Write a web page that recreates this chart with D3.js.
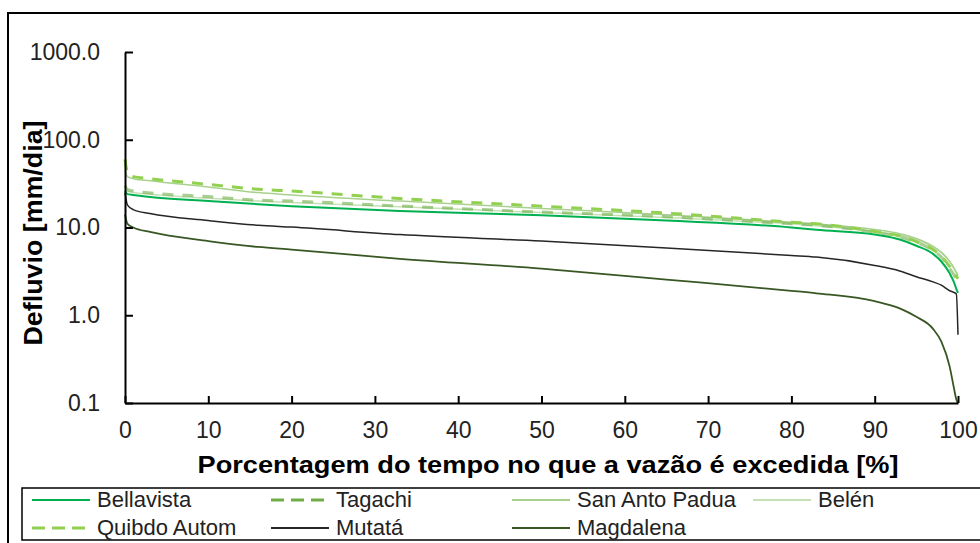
<!DOCTYPE html>
<meta charset="utf-8">
<body style="margin: 0; overflow: hidden; background: #fff">
<script src="https://d3js.org/d3.v7.min.js"></script>
<script>
    // percentage of time the flow is exceeded
    var pct = [0, 0.3, 1, 3, 10, 16, 20, 33, 50, 65, 80, 83, 90, 93, 95, 97, 98, 99, 99.5, 99.8, 100];

    var bellavista = [26, 24, 23.5, 22.3, 20, 18.4, 17.5, 15.4, 13.8, 12, 10, 9.4, 8.3, 7.3, 6.2, 5.0, 4.1, 3.0, 2.4, 2.0, 1.8];
    var tagachi    = [30, 27, 26, 24.8, 22.5, 20.5, 20, 17.6, 15, 13.3, 11, 10.6, 8.8, 7.8, 6.8, 5.5, 4.6, 3.4, 2.9, 2.6, 2.4];
    var sanAnto    = [45, 38, 36, 34, 29, 25, 23.5, 20, 16.5, 14, 11.5, 11, 9.5, 8.5, 7.5, 6.1, 5.2, 4.1, 3.5, 3.1, 2.9];
    var belen      = [28, 26, 25, 24, 21.5, 20, 19.3, 17.2, 14.8, 13, 11, 10.5, 9, 8.2, 7.3, 6.0, 5.2, 4.1, 3.4, 3.0, 2.8];
    var quibdo     = [60, 42, 38, 36, 31, 27.3, 26, 21.4, 17.5, 14.6, 11.5, 11, 9.0, 8.0, 6.9, 5.6, 4.7, 3.6, 3.1, 2.8, 2.6];
    var mutata     = [25, 18, 16, 14.4, 12, 10.6, 10.1, 8.3, 7.0, 5.85, 4.8, 4.6, 3.7, 3.2, 2.75, 2.4, 2.2, 1.9, 1.82, 1.75, 0.6];
    var magdalena  = [14, 11, 10, 8.9, 7, 6.0, 5.6, 4.4, 3.4, 2.55, 1.9, 1.78, 1.45, 1.2, 0.96, 0.7, 0.5, 0.26, 0.15, 0.11, 0.1];

    var xTicks = [0, 10, 20, 30, 40, 50, 60, 70, 80, 90, 100];
    var yTicks = [0.1, 1, 10, 100, 1000];

    var series = [
        {name: "Bellavista",     values: bellavista, color: "#00b050", width: 2,   dash: null},
        {name: "Tagachi",        values: tagachi,    color: "#70ad47", width: 3,   dash: "11,9", opacity: 0.6},
        {name: "San Anto Padua", values: sanAnto,    color: "#a9d18e", width: 1.5, dash: null},
        {name: "Belén",          values: belen,      color: "#c5e0b4", width: 1.5, dash: null},
        {name: "Quibdo Autom",   values: quibdo,     color: "#92d050", width: 3,   dash: "11,9"},
        {name: "Mutatá",         values: mutata,     color: "#262626", width: 1.5, dash: null},
        {name: "Magdalena",      values: magdalena,  color: "#385723", width: 1.8, dash: null}
    ];

    var width = 980, height = 543;
    var font = "'Liberation Sans', Arial, sans-serif";

    var svg = d3.select("body").append("svg")
        .attr("width", width)
        .attr("height", height)
        .style("font-family", font);

    // outer frame
    svg.append("rect")
        .attr("x", 8).attr("y", 13)
        .attr("width", 990).attr("height", 560)
        .attr("fill", "none").attr("stroke", "#000").attr("stroke-width", 2);

    var x = d3.scaleLinear().domain([0, 100]).range([125, 958]);
    var y = d3.scaleLog().domain([0.1, 1000]).range([403, 52]);

    var line = d3.line()
        .x(function (d) { return x(d[0]); })
        .y(function (d) { return y(d[1]); })
        .curve(d3.curveMonotoneX);

    // draw back to front so the darker curves sit on top
    var order = ["Belén", "San Anto Padua", "Tagachi", "Quibdo Autom", "Bellavista", "Mutatá", "Magdalena"];
    order.forEach(function (n) {
        var s = series.find(function (d) { return d.name === n; });
        svg.append("path")
            .datum(pct.map(function (p, i) { return [p, s.values[i]]; }))
            .attr("d", line)
            .attr("fill", "none")
            .attr("stroke", s.color)
            .attr("stroke-opacity", s.opacity || 1)
            .attr("stroke-width", s.width)
            .attr("stroke-dasharray", s.dash);
    });

    var yAxis = svg.append("g")
        .attr("transform", "translate(125,0)")
        .call(d3.axisLeft(y).tickValues(yTicks).tickFormat(d3.format(".1f"))
            .tickSizeInner(-8).tickSizeOuter(0).tickPadding(25));

    var xAxis = svg.append("g")
        .attr("transform", "translate(0,403)")
        .call(d3.axisBottom(x).tickValues(xTicks)
            .tickSizeInner(-7).tickSizeOuter(0).tickPadding(19));

    [xAxis, yAxis].forEach(function (g) {
        g.select(".domain").attr("stroke", "#000").attr("stroke-width", 2);
        g.selectAll(".tick line").attr("stroke", "#000").attr("stroke-width", 2);
        g.selectAll(".tick text")
            .attr("fill", "#222")
            .style("font-family", font)
            .style("font-size", "23px");
    });

    // axis titles
    svg.append("text")
        .attr("x", 548).attr("y", 473)
        .attr("text-anchor", "middle")
        .attr("textLength", 701)
        .attr("lengthAdjust", "spacingAndGlyphs")
        .style("font-size", "24px").style("font-weight", "bold")
        .text("Porcentagem do tempo no que a vazão é excedida [%]");

    svg.append("text")
        .attr("transform", "translate(42,233) rotate(-90)")
        .attr("text-anchor", "middle")
        .attr("textLength", 225)
        .attr("lengthAdjust", "spacingAndGlyphs")
        .style("font-size", "25px").style("font-weight", "bold")
        .text("Defluvio [mm/dia]");

    // legend
    svg.append("rect")
        .attr("x", 22).attr("y", 488)
        .attr("width", 990).attr("height", 52)
        .attr("fill", "none").attr("stroke", "#000").attr("stroke-width", 1.5);

    var colX = [32, 271, 512, 753];
    var rowY = [500, 528];

    series.forEach(function (s, i) {
        var cx = colX[i % 4], cy = rowY[Math.floor(i / 4)];
        svg.append("line")
            .attr("x1", cx).attr("x2", cx + 58)
            .attr("y1", cy).attr("y2", cy)
            .attr("stroke", s.color)
            .attr("stroke-width", s.dash ? 3 : 2)
            .attr("stroke-dasharray", s.dash ? "13,7" : null);
        svg.append("text")
            .attr("x", cx + 65).attr("y", cy + 7)
            .style("font-size", "22px")
            .attr("fill", "#222")
            .text(s.name);
    });
</script>
